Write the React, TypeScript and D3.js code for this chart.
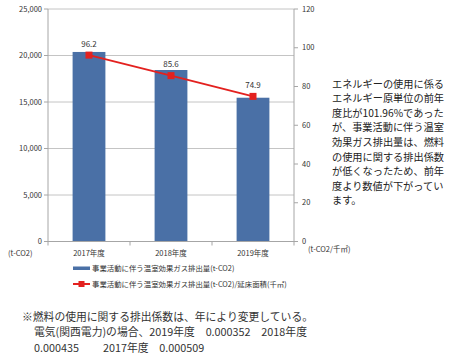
import React from "react";
import * as d3 from "d3";

const categories = ["2017年度", "2018年度", "2019年度"];
const emissions = [20380, 18440, 15460];
const intensity = [96.2, 85.6, 74.9];
const leftTicks = [0, 5000, 10000, 15000, 20000, 25000];
const rightTicks = [0, 20, 40, 60, 80, 100, 120];
const legendLabels = [
  "事業活動に伴う温室効果ガス排出量(t-CO2)",
  "事業活動に伴う温室効果ガス排出量(t-CO2)/延床面積(千㎡)",
];
const sideText = [
  "エネルギーの使用に係る",
  "エネルギー原単位の前年",
  "度比が101.96%であった",
  "が、事業活動に伴う温室",
  "効果ガス排出量は、燃料",
  "の使用に関する排出係数",
  "が低くなったため、前年",
  "度より数値が下がってい",
  "ます。",
];
const noteText = [
  "※燃料の使用に関する排出係数は、年により変更している。",
  "電気(関西電力)の場合、2019年度　0.000352　2018年度",
  "0.000435　　  2017年度　0.000509",
];

const FONT = "'Noto Sans CJK JP', 'Noto Sans', sans-serif";
const BAR = "#4a70a6";
const RED = "#e3211f";

export default function App() {
  const left = 48, right = 294, top = 9, bottom = 241.5;
  const x = d3.scaleBand<string>().domain(categories).range([left, right]).paddingInner(0.6).paddingOuter(0.3);
  const yL = d3.scaleLinear().domain([0, 25000]).range([bottom, top]);
  const yR = d3.scaleLinear().domain([0, 120]).range([bottom, top]);
  const fmt = d3.format(",");
  const line = d3
    .line<number>()
    .x((_, i) => (x(categories[i]) as number) + x.bandwidth() / 2)
    .y((d) => yR(d));
  const step = (right - left) / categories.length;

  return (
    <svg
      width={450}
      height={360}
      style={{ position: "absolute", left: 0, top: 0, background: "#fff" }}
      fontFamily={FONT}
    >
      {leftTicks.map((t) => (
        <line key={"g" + t} x1={left} x2={right} y1={yL(t)} y2={yL(t)} stroke="#c4c4c4" strokeWidth={1} />
      ))}
      <line x1={left} x2={left} y1={top} y2={bottom} stroke="#a6a6a6" />
      {leftTicks.map((t) => (
        <g key={"l" + t}>
          <line x1={left - 4} x2={left} y1={yL(t)} y2={yL(t)} stroke="#a6a6a6" />
          <text x={42} y={yL(t)} dy="0.35em" textAnchor="end" fontSize={7.5} fill="#333">
            {fmt(t)}
          </text>
        </g>
      ))}
      {emissions.map((v, i) => (
        <rect
          key={"b" + i}
          x={x(categories[i])}
          y={yL(v)}
          width={x.bandwidth()}
          height={bottom - yL(v)}
          fill={BAR}
        />
      ))}
      <line x1={left} x2={right} y1={bottom} y2={bottom} stroke="#a6a6a6" />
      {[0, 1, 2, 3].map((i) => (
        <line key={"xt" + i} x1={left + i * step} x2={left + i * step} y1={bottom} y2={bottom + 4} stroke="#a6a6a6" />
      ))}
      {categories.map((c) => (
        <text key={c} x={(x(c) as number) + x.bandwidth() / 2} y={253} dy="0.35em" textAnchor="middle" fontSize={7.5} fill="#333">
          {c}
        </text>
      ))}
      <line x1={right} x2={right} y1={top} y2={bottom} stroke="#a6a6a6" />
      {rightTicks.map((t) => (
        <g key={"r" + t}>
          <line x1={right} x2={right + 4} y1={yR(t)} y2={yR(t)} stroke="#a6a6a6" />
          <text x={302} y={yR(t)} dy="0.35em" textAnchor="start" fontSize={7.5} fill="#333">
            {t}
          </text>
        </g>
      ))}
      <path d={line(intensity) || ""} fill="none" stroke={RED} strokeWidth={2} />
      {intensity.map((v, i) => {
        const cx = (x(categories[i]) as number) + x.bandwidth() / 2;
        return (
          <g key={"p" + i}>
            <rect x={cx - 3.5} y={yR(v) - 3.5} width={7} height={7} fill={RED} />
            <text x={cx} y={yR(v) - 11} dy="0.35em" textAnchor="middle" fontSize={8} fill="#333">
              {v}
            </text>
          </g>
        );
      })}
      <text x={8} y={253} dy="0.35em" fontSize={7.5} fill="#333">(t-CO2)</text>
      <text x={308} y={249} dy="0.35em" fontSize={7.5} fill="#333">(t-CO2/千㎡)</text>
      <rect x={73} y={266.5} width={17} height={3.5} fill={BAR} />
      <text x={92} y={268} dy="0.35em" fontSize={7.4} fill="#333">{legendLabels[0]}</text>
      <line x1={73} x2={90} y1={284} y2={284} stroke={RED} strokeWidth={2} />
      <rect x={78.5} y={281} width={6} height={6} fill={RED} />
      <text x={92} y={284} dy="0.35em" fontSize={7.4} fill="#333">{legendLabels[1]}</text>
      {sideText.map((s, i) => (
        <text key={"s" + i} x={332} y={84 + i * 14.6} dy="0.35em" fontSize={10.2} fill="#222">
          {s}
        </text>
      ))}
      {noteText.map((s, i) => (
        <text key={"n" + i} x={i === 0 ? 22 : 34} y={317 + i * 15.5} dy="0.35em" fontSize={10.8} fill="#333">
          {s}
        </text>
      ))}
    </svg>
  );
}
